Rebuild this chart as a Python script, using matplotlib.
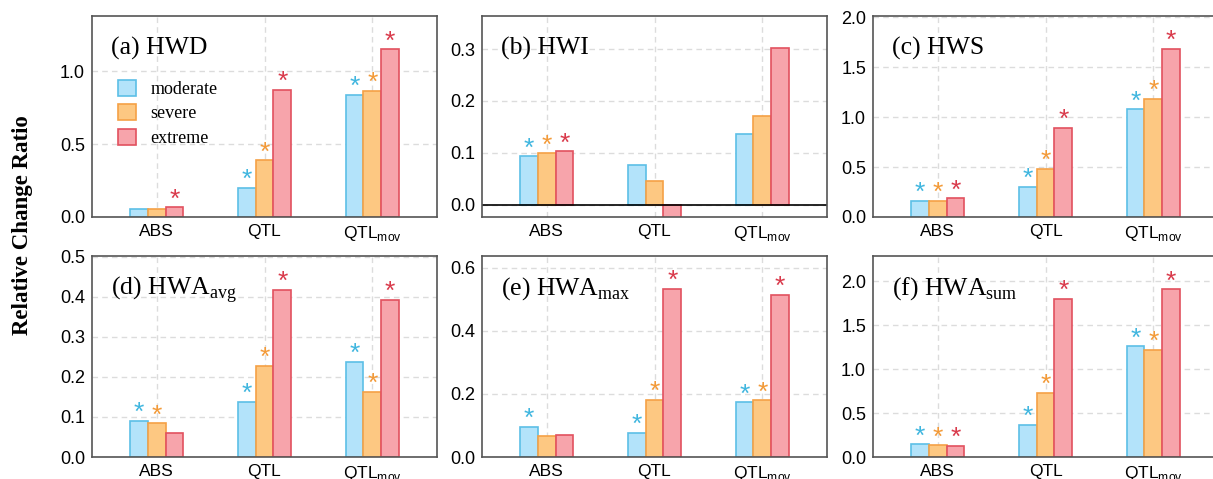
import numpy as np
import matplotlib
matplotlib.use("Agg")
import matplotlib.pyplot as plt

plt.rcParams['font.family'] = ['Liberation Sans', 'DejaVu Sans']

methods = ['ABS', 'QTL', r'QTL$_\mathregular{mov}$']
levels = ['moderate', 'severe', 'extreme']

# relative change ratio per panel: rows = moderate, severe, extreme; cols = ABS, QTL, QTL_mov
hwd = [[0.057, 0.198, 0.839],
       [0.057, 0.389, 0.866],
       [0.067, 0.873, 1.152]]
hwi = [[0.093, 0.077, 0.136],
       [0.099, 0.046, 0.171],
       [0.103, -0.030, 0.302]]
hws = [[0.160, 0.300, 1.080],
       [0.160, 0.480, 1.183],
       [0.187, 0.893, 1.685]]
hwa_avg = [[0.090, 0.137, 0.238],
           [0.084, 0.228, 0.162],
           [0.060, 0.418, 0.392]]
hwa_max = [[0.095, 0.076, 0.173],
           [0.068, 0.181, 0.180],
           [0.069, 0.532, 0.513]]
hwa_sum = [[0.143, 0.366, 1.257],
           [0.132, 0.732, 1.215],
           [0.125, 1.800, 1.906]]

# significance flags (1 = star), same layout
sig_hwd = [[0, 1, 1], [0, 1, 1], [1, 1, 1]]
sig_hwi = [[1, 0, 0], [1, 0, 0], [1, 0, 0]]
sig_hws = [[1, 1, 1], [1, 1, 1], [1, 1, 1]]
sig_avg = [[1, 1, 1], [1, 1, 1], [0, 1, 1]]
sig_max = [[1, 1, 1], [0, 1, 1], [0, 1, 1]]
sig_sum = [[1, 1, 1], [1, 1, 1], [1, 1, 1]]

titles = ['(a) HWD', '(b) HWI', '(c) HWS',
          r'(d) HWA$_\mathregular{avg}$', r'(e) HWA$_\mathregular{max}$', r'(f) HWA$_\mathregular{sum}$']
panels = [hwd, hwi, hws, hwa_avg, hwa_max, hwa_sum]
sigs = [sig_hwd, sig_hwi, sig_hws, sig_avg, sig_max, sig_sum]
ylims = [(0, 1.38), (-0.024, 0.364), (0, 2.015), (0, 0.502), (0, 0.637), (0, 2.285)]
yticks = [[0, 0.5, 1.0], [0, 0.1, 0.2, 0.3], [0, 0.5, 1.0, 1.5, 2.0],
          [0, 0.1, 0.2, 0.3, 0.4, 0.5], [0, 0.2, 0.4, 0.6], [0, 0.5, 1.0, 1.5, 2.0]]

fills = ['#b3e3fa', '#fdc882', '#f7a4ab']
edges = ['#5cbfe6', '#f5a146', '#e2515f']
star_colors = ['#40b6df', '#f39a38', '#d93a4b']

W, H = 1213, 479
fig = plt.figure(figsize=(W / 100, H / 100), dpi=100)

lefts = [92, 482, 873]
tops = [16, 256]
aw, ah = 345, 201

x = np.arange(3)
w = 0.165

for i, (data, sig) in enumerate(zip(panels, sigs)):
    r, c = divmod(i, 3)
    ax = fig.add_axes([lefts[c] / W, 1 - (tops[r] + ah) / H, aw / W, ah / H])
    ax.set_axisbelow(True)
    ax.grid(True, color='#dcdcdc', linestyle=(0, (4, 3)), linewidth=1)
    lo, hi = ylims[i]
    for k in range(3):
        ax.bar(x + (k - 1) * w, data[k], width=w, color=fills[k], edgecolor=edges[k],
               linewidth=1.2, label=levels[k])
        for j in range(3):
            if sig[k][j]:
                ax.annotate('*', (x[j] + (k - 1) * w, max(data[k][j], 0)),
                            xytext=(0, -3), textcoords='offset points',
                            ha='center', va='bottom', fontsize=19, color=star_colors[k])
    if lo < 0:
        ax.axhline(0, color='black', linewidth=1.2)
    ax.set_xlim(-0.6, 2.6)
    ax.set_ylim(lo, hi)
    ax.set_yticks(yticks[i])
    ax.set_yticklabels(['%.1f' % t for t in yticks[i]])
    ax.set_xticks(x)
    ax.set_xticklabels(methods)
    ax.tick_params(axis='both', length=0)
    ax.tick_params(axis='y', labelsize=13, pad=5)
    ax.tick_params(axis='x', labelsize=12.5, pad=5)
    for s in ax.spines.values():
        s.set_color('#555555')
        s.set_linewidth(1.2)
    ax.text(0.055, 0.81, titles[i], transform=ax.transAxes, fontsize=18.5,
            family=['Liberation Serif', 'DejaVu Serif'], va='baseline')
    if i == 0:
        ax.legend(loc='upper left', bbox_to_anchor=(0.055, 0.72), frameon=False,
                  prop={'family': 'Liberation Serif', 'size': 13},
                  handlelength=1.0, handleheight=1.0, handletextpad=0.8,
                  labelspacing=0.35, borderaxespad=0)

fig.text(23 / W, 0.53, 'Relative Change Ratio', rotation=90, ha='center', va='center',
         fontsize=16.5, fontweight='bold', family=['Liberation Serif', 'DejaVu Serif'])

fig.savefig('out.png', dpi=100)
